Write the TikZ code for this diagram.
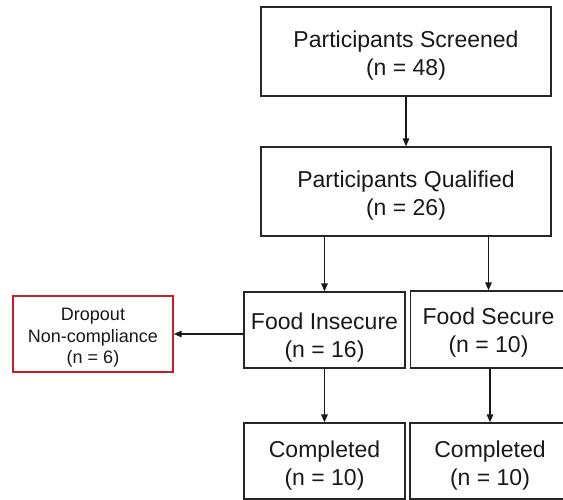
\documentclass[tikz,border=0pt]{standalone}
\usepackage{fontspec}
\setmainfont{Liberation Sans}
\usetikzlibrary{arrows.meta}
\begin{document}
\begin{tikzpicture}[x=1pt,y=1pt,
  box/.style={draw=black!85, line width=1.3pt, rectangle, inner sep=0pt},
  redbox/.style={draw={rgb,255:red,200;green,30;blue,35}, line width=1.4pt, rectangle, inner sep=0pt},
  txt/.style={align=center, inner sep=0pt, font=\fontsize{23}{28}\selectfont, text=black!90},
  smalltxt/.style={align=center, inner sep=0pt, font=\fontsize{18}{21.5}\selectfont, text=black!90},
  arr/.style={line width=1.4pt, draw=black!90, -{Triangle[length=8pt,width=6.5pt]}}]
\useasboundingbox (0,0) rectangle (563,500);
\clip (0,0) rectangle (563,500);
\fill[white] (0,0) rectangle (563,500);
\node[box, minimum width=290pt, minimum height=89pt] (scr) at (406,448.5) {};
\node[box, minimum width=290pt, minimum height=89pt] (qual) at (406,308.5) {};
\node[box, minimum width=161pt, minimum height=76pt] (fi) at (324.5,170) {};
\node[box, minimum width=156pt, minimum height=77pt] (fs) at (488.5,170.5) {};
\node[box, minimum width=161pt, minimum height=76pt] (c1) at (324.5,39) {};
\node[box, minimum width=160pt, minimum height=76pt] (c2) at (490,39) {};
\node[redbox, minimum width=160pt, minimum height=76pt] (drop) at (93,166) {};
\node[txt] (scrt) at ([yshift=-4.5pt]scr.center) {Participants Screened\\(n = 48)};
\node[txt] (qualt) at ([yshift=-4.5pt]qual.center) {Participants Qualified\\(n = 26)};
\node[txt] (fit) at ([yshift=-7.5pt]fi.center) {Food Insecure\\(n = 16)};
\node[txt] (fst) at ([yshift=-3.5pt]fs.center) {Food Secure\\(n = 10)};
\node[txt] (c1t) at ([yshift=-4.5pt]c1.center) {Completed\\(n = 10)};
\node[txt] (c2t) at ([yshift=-4.5pt]c2.center) {Completed\\(n = 10)};
\node[smalltxt] (dropt) at ([yshift=-4pt]drop.center) {Dropout\\Non-compliance\\(n = 6)};
\draw[arr] (scr.south) -- (qual.north);
\draw[arr] (qual.south -| fi.north) -- (fi.north);
\draw[arr] (qual.south -| fs.north) -- (fs.north);
\draw[arr] (fi.south) -- (c1.north);
\draw[arr] (fs.south -| c2.north) -- (c2.north);
\draw[arr] (fi.west |- drop.east) -- (drop.east);
\end{tikzpicture}
\end{document}
